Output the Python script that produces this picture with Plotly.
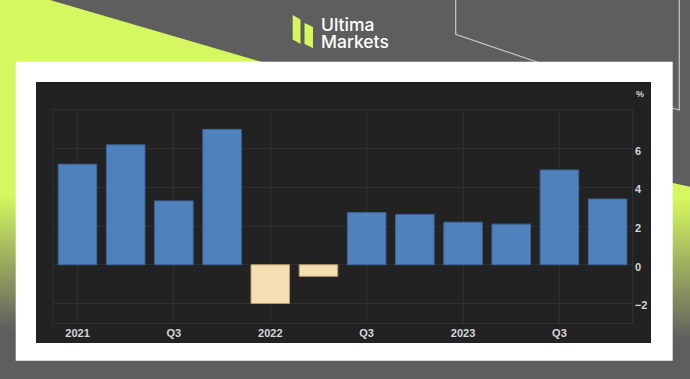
import plotly.graph_objects as go

# ---- data ----
categories = ["2021 Q1", "2021 Q2", "2021 Q3", "2021 Q4",
              "2022 Q1", "2022 Q2", "2022 Q3", "2022 Q4",
              "2023 Q1", "2023 Q2", "2023 Q3", "2023 Q4"]
values = [5.2, 6.2, 3.3, 7.0, -2.0, -0.6, 2.7, 2.6, 2.2, 2.1, 4.9, 3.4]
x_tick_positions = [0, 2, 4, 6, 8, 10]
x_tick_labels = ["2021", "Q3", "2022", "Q3", "2023", "Q3"]
y_tick_values = [-2, 0, 2, 4, 6]
y_unit = "%"

W, H = 690, 379
GRAY = (94, 94, 94)
GREEN = (213, 247, 95)


def px(x):
    return x / W


def py(y):
    return 1 - y / H


def rgb(c):
    return "rgb(%d,%d,%d)" % c


def mix(a, b, t):
    return tuple(round(a[i] + (b[i] - a[i]) * t) for i in range(3))


shapes = []


def rect(x0, y0, x1, y1, color):
    shapes.append(dict(type="rect", xref="paper", yref="paper",
                       x0=px(x0), x1=px(x1), y0=py(y1), y1=py(y0),
                       fillcolor=color, line=dict(width=0), layer="below"))


def poly(pts, color):
    d = "M " + " L ".join("%f,%f" % (px(a), py(b)) for a, b in pts) + " Z"
    shapes.append(dict(type="path", xref="paper", yref="paper", path=d,
                       fillcolor=color, line=dict(width=0), layer="below"))


def line(pts, color, width=1.2):
    d = "M " + " L ".join("%f,%f" % (px(a), py(b)) for a, b in pts)
    shapes.append(dict(type="path", xref="paper", yref="paper", path=d,
                       line=dict(color=color, width=width), layer="below"))


# top-left green triangle
poly([(0, 0), (50, 0), (262, 62), (0, 62)], rgb(GREEN))
# left strip: green fading to gray
rect(0, 61, 16, 195, rgb(GREEN))
# right strip green top (sloped)
poly([(672, 182.7), (690, 186.7), (690, 200), (672, 200)], rgb(GREEN))
steps = 45
y_start, y_end = 195, 330
for i in range(steps):
    y0 = y_start + (y_end - y_start) * i / steps
    y1 = y_start + (y_end - y_start) * (i + 1) / steps + 0.6
    c = rgb(mix(GREEN, GRAY, (i + 0.5) / steps))
    rect(0, y0, 16, y1, c)
y_start_r, y_end_r = 200, 340
for i in range(steps):
    y0 = y_start_r + (y_end_r - y_start_r) * i / steps
    y1 = y_start_r + (y_end_r - y_start_r) * (i + 1) / steps + 0.6
    c = rgb(mix(GREEN, GRAY, (i + 0.5) / steps))
    rect(672, y0, 690, y1, c)

# thin outline lines top right
line([(455.7, 0), (455.7, 34.3), (540, 63)], "rgb(200,200,200)")
line([(679.3, 0), (679.3, 110), (670, 107.5)], "rgb(200,200,200)")

# white frame and dark panel
rect(15.7, 61.7, 672.7, 360.7, "white")
rect(36, 82, 651, 343, "rgb(34,34,34)")

# logo icon
poly([(292.7, 15), (300.5, 19.5), (300.5, 44), (292.7, 39.5)], rgb(GREEN))
poly([(304.5, 23), (313, 27), (313, 48), (304.5, 44)], rgb(GREEN))

colors = ["#4f81bd" if v >= 0 else "#f5deb3" for v in values]
edges = ["#3b6597" if v >= 0 else "#b59b6c" for v in values]

fig = go.Figure(go.Bar(
    x=list(range(len(categories))), y=values,
    marker=dict(color=colors, line=dict(color=edges, width=1)),
    width=0.8, hovertext=categories,
))

tick_font = dict(family="Liberation Sans, Arial, sans-serif", size=11,
                 color="#d6d6d6", weight="bold")

fig.update_layout(
    width=W, height=H,
    margin=dict(l=0, r=0, t=0, b=0),
    paper_bgcolor=rgb(GRAY),
    plot_bgcolor="rgba(0,0,0,0)",
    showlegend=False,
    shapes=shapes,
    xaxis=dict(domain=[px(52.7), px(631.7)], range=[-0.515, 11.5],
               tickvals=x_tick_positions, ticktext=x_tick_labels,
               showgrid=True, gridcolor="#2f2f2f", gridwidth=1,
               showline=True, mirror=True, linecolor="#2f2f2f",
               zeroline=False, ticks="", tickfont=tick_font,
               fixedrange=True),
    yaxis=dict(domain=[py(322.8), py(110)], range=[-3, 8],
               side="right", tickvals=y_tick_values,
               showgrid=True, gridcolor="#2f2f2f", gridwidth=1,
               showline=True, mirror=True, linecolor="#2f2f2f",
               zeroline=False, ticks="", tickfont=tick_font,
               ticklabelshift=2, fixedrange=True),
    annotations=[
        dict(text=y_unit, xref="paper", yref="paper", x=px(634), y=py(94),
             xanchor="left", yanchor="middle", showarrow=False,
             font=dict(family="Liberation Sans, Arial, sans-serif", size=9,
                       color="#d2d2d2", weight="bold")),
        dict(text="Ultima", xref="paper", yref="paper", x=px(318.5), y=py(23.5),
             xanchor="left", yanchor="middle", showarrow=False, height=16,
             font=dict(family="Inter, sans-serif", size=17.5, color="white",
                       weight=500)),
        dict(text="Markets", xref="paper", yref="paper", x=px(318.5),
             y=py(41), xanchor="left", yanchor="middle", showarrow=False,
             height=16,
             font=dict(family="Inter, sans-serif", size=17.5, color="white",
                       weight=500)),
    ],
)

fig.write_html(
    "out.html", config={"displayModeBar": False},
    post_script="document.body.style.margin='0px';"
                "document.body.style.padding='0px';"
                "document.body.style.overflow='hidden';")
